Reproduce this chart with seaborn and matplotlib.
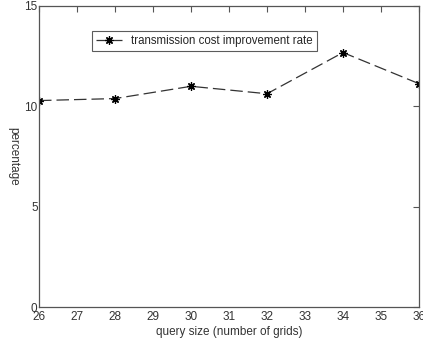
import matplotlib
matplotlib.use('Agg')
import matplotlib.pyplot as plt
import seaborn as sns
import pandas as pd

# values
query_size = [26, 28, 30, 32, 34, 36]
improvement = [10.27, 10.37, 10.98, 10.61, 12.66, 11.11]
x_ticks = list(range(26, 37))
y_ticks = [0, 5, 10, 15]

df = pd.DataFrame({'query_size': query_size, 'rate': improvement})

sns.set_style('white')
plt.rcParams['font.family'] = ['Liberation Sans', 'DejaVu Sans']

fig = plt.figure(figsize=(4.23, 3.45), dpi=100)
ax = fig.add_axes([39 / 423, 1 - 307 / 345, 380 / 423, 301.5 / 345])

sns.lineplot(data=df, x='query_size', y='rate', ax=ax, color='#333333',
             linewidth=0.9, marker=(8, 2, 0), markersize=6, markeredgecolor='black',
             markeredgewidth=0.9, dashes=False,
             label='transmission cost improvement rate')
ax.lines[0].set_dashes([10, 4])

ax.set_xlim(26, 36)
ax.set_ylim(0, 15)
ax.set_xticks(x_ticks)
ax.set_yticks(y_ticks)
ax.tick_params(direction='in', length=4, width=0.8, labelsize=8.5,
               top=True, right=True, colors='#555555', labelcolor='#333333', pad=3)
ax.tick_params(axis='y', pad=1)
for s in ax.spines.values():
    s.set_color('#555555')
    s.set_linewidth(0.9)

ax.set_xlabel('query size (number of grids)', fontsize=8.5, color='#333333', labelpad=2)
ax.set_ylabel('percentage', fontsize=8.5, color='#333333', rotation=-90, labelpad=12)

leg = ax.legend(loc='upper left', bbox_to_anchor=(0.125, 0.935), fontsize=8.3,
                frameon=True, fancybox=False, handlelength=2.2, borderpad=0.35)
leg.get_frame().set_edgecolor('#333333')
leg.get_frame().set_linewidth(0.8)

fig.savefig('out.png', dpi=100)
